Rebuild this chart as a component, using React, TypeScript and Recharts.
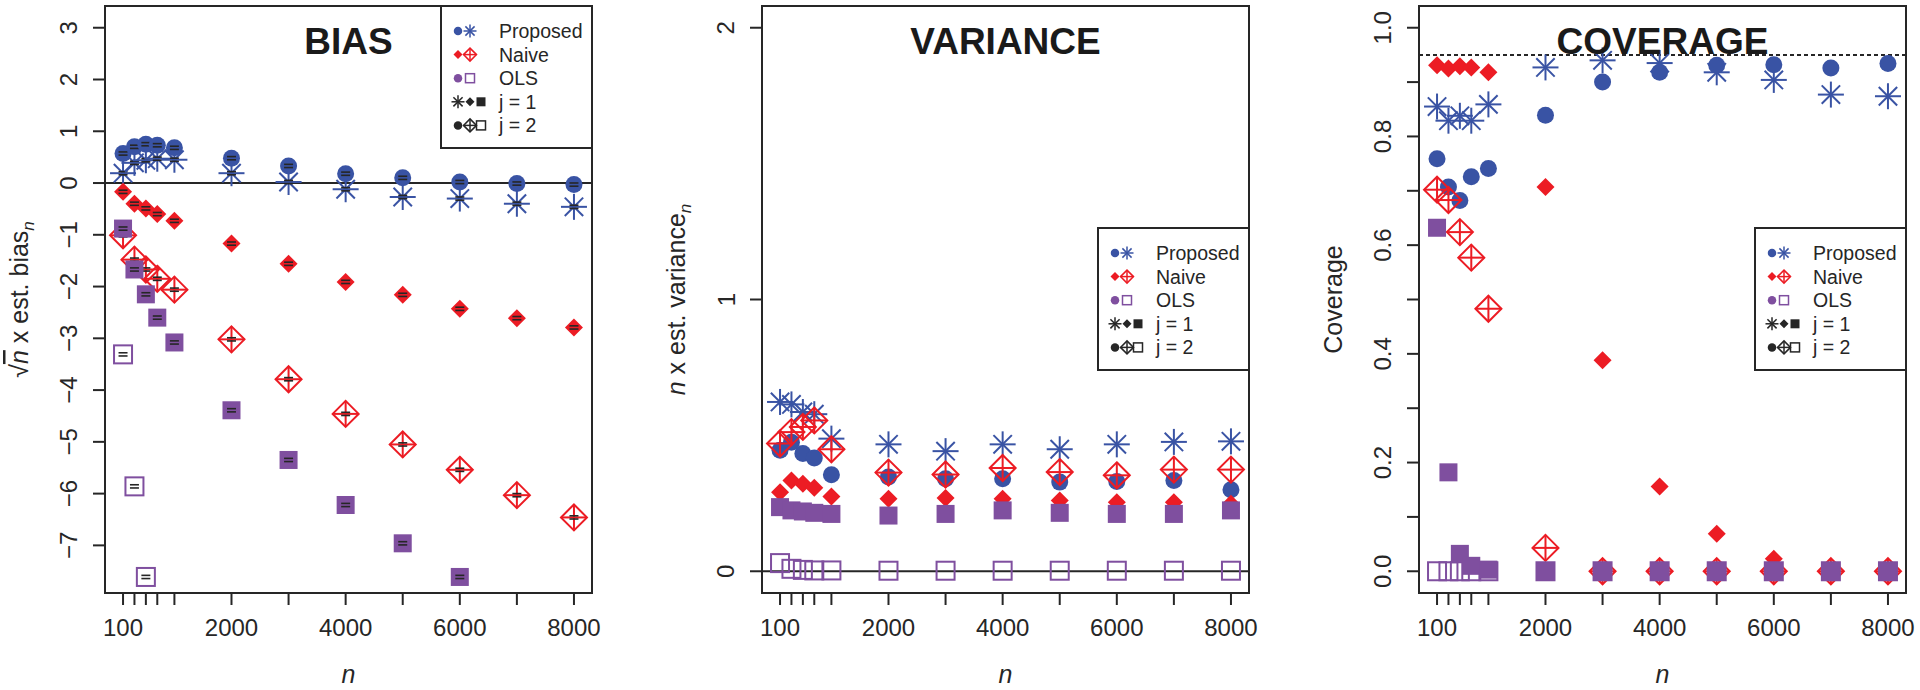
import React from "react";
import { ScatterChart, Scatter, XAxis, YAxis, ReferenceLine } from "recharts";

const FONT = "'Liberation Sans', Arial, Helvetica, sans-serif";
const BLUE = "#3953a4";
const RED = "#ec1c24";
const PURPLE = "#7f4f9f";
const INK = "#262626";

// sample sizes (x axis)
const N = [100, 300, 500, 700, 1000, 2000, 3000, 4000, 5000, 6000, 7000, 8000];
const N_LABELED = [100, 2000, 4000, 6000, 8000];
const X_DOMAIN = [-216, 8316];

// BIAS panel (sqrt(n) x est. bias)
const biasPropJ1 = [0.19, 0.39, 0.44, 0.47, 0.45, 0.19, 0.02, -0.12, -0.27, -0.3, -0.4, -0.46];
const biasPropJ2 = [0.57, 0.7, 0.75, 0.73, 0.68, 0.48, 0.33, 0.18, 0.1, 0.02, -0.01, -0.03];
const biasNaiveJ1 = [-0.17, -0.4, -0.49, -0.6, -0.73, -1.17, -1.56, -1.91, -2.16, -2.43, -2.61, -2.79];
const biasNaiveJ2 = [-1.01, -1.48, -1.67, -1.85, -2.06, -3.02, -3.79, -4.46, -5.05, -5.54, -6.03, -6.46];
const biasOlsJ1 = [-0.88, -1.67, -2.15, -2.6, -3.08, -4.39, -5.35, -6.22, -6.96, -7.61, null, null];
const biasOlsJ2 = [-3.31, -5.86, -7.61, null, null, null, null, null, null, null, null, null];
const BIAS_TICKS = [-7, -6, -5, -4, -3, -2, -1, 0, 1, 2, 3];

// VARIANCE panel (n x est. variance)
const varPropJ1 = [0.623, 0.614, 0.586, 0.578, 0.488, 0.467, 0.442, 0.467, 0.449, 0.467, 0.476, 0.478];
const varPropJ2 = [0.445, 0.475, 0.433, 0.417, 0.355, 0.347, 0.34, 0.34, 0.328, 0.33, 0.334, 0.3];
const varNaiveJ1 = [0.291, 0.334, 0.322, 0.307, 0.275, 0.267, 0.27, 0.267, 0.26, 0.254, 0.254, 0.248];
const varNaiveJ2 = [0.47, 0.512, 0.531, 0.555, 0.449, 0.363, 0.356, 0.38, 0.365, 0.353, 0.374, 0.374];
const varOlsJ1 = [0.236, 0.224, 0.22, 0.215, 0.211, 0.205, 0.211, 0.224, 0.215, 0.211, 0.211, 0.224];
const varOlsJ2 = [0.03, 0.009, 0.005, 0.003, 0.003, 0.002, 0.002, 0.002, 0.002, 0.002, 0.002, 0.002];
const VAR_TICKS = [0, 1, 2];

// COVERAGE panel
const covPropJ1 = [0.855, 0.829, 0.838, 0.829, 0.859, 0.927, 0.94, 0.935, 0.918, 0.904, 0.877, 0.874];
const covPropJ2 = [0.759, 0.707, 0.682, 0.726, 0.741, 0.839, 0.9, 0.918, 0.931, 0.932, 0.926, 0.934];
const covNaiveJ1 = [0.931, 0.925, 0.929, 0.927, 0.918, 0.707, 0.388, 0.156, 0.069, 0.023, 0, 0];
const covNaiveJ2 = [0.702, 0.683, 0.624, 0.577, 0.483, 0.043, 0, 0, 0, 0, 0, 0];
const covOlsJ1 = [0.632, 0.182, 0.032, 0.01, 0.003, 0, 0, 0, 0, 0, 0, 0];
const covOlsJ2 = [0, 0, 0, 0, 0, 0, 0, 0, 0, 0, 0, 0];
const COV_TICKS = [0, 0.1, 0.2, 0.3, 0.4, 0.5, 0.6, 0.7, 0.8, 0.9, 1];

const W = 657;
const H = 690;
const PLOT = { left: 105, top: 6, width: 487, height: 587 };

const toPoints = (vals: (number | null)[]) =>
  N.map((x, i) => ({ x, y: vals[i] })).filter((p) => p.y !== null);

// R style plotting symbols
function Glyph({ cx, cy, kind, color, s = 1, bar = false }: any) {
  if (cx == null || cy == null) return null;
  let body: any = null;
  if (kind === "star") {
    const a = 13 * s, d = 9.2 * s;
    body = (
      <g stroke={color} strokeWidth={2 * Math.max(s, 0.75)}>
        <line x1={cx - a} y1={cy} x2={cx + a} y2={cy} />
        <line x1={cx} y1={cy - a} x2={cx} y2={cy + a} />
        <line x1={cx - d} y1={cy - d} x2={cx + d} y2={cy + d} />
        <line x1={cx - d} y1={cy + d} x2={cx + d} y2={cy - d} />
      </g>
    );
  } else if (kind === "dot") {
    body = <circle cx={cx} cy={cy} r={8.5 * s} fill={color} />;
  } else if (kind === "dfill") {
    const a = 9 * s;
    body = <polygon points={`${cx},${cy - a} ${cx + a},${cy} ${cx},${cy + a} ${cx - a},${cy}`} fill={color} />;
  } else if (kind === "dplus") {
    const a = 13 * s;
    body = (
      <g stroke={color} strokeWidth={2 * Math.max(s, 0.75)} fill="none">
        <polygon points={`${cx},${cy - a} ${cx + a},${cy} ${cx},${cy + a} ${cx - a},${cy}`} />
        <line x1={cx - a} y1={cy} x2={cx + a} y2={cy} />
        <line x1={cx} y1={cy - a} x2={cx} y2={cy + a} />
      </g>
    );
  } else if (kind === "sfill") {
    const a = 9 * s;
    body = <rect x={cx - a} y={cy - a} width={2 * a} height={2 * a} fill={color} />;
  } else if (kind === "sopen") {
    const a = 9 * s;
    body = (
      <rect x={cx - a} y={cy - a} width={2 * a} height={2 * a} fill="none" stroke={color}
        strokeWidth={2 * Math.max(s, 0.75)} />
    );
  }
  return (
    <g>
      {body}
      {bar && (
        <g stroke={INK} strokeWidth={1.6}>
          <line x1={cx - 4.5} y1={cy - 1.6} x2={cx + 4.5} y2={cy - 1.6} />
          <line x1={cx - 4.5} y1={cy + 1.6} x2={cx + 4.5} y2={cy + 1.6} />
        </g>
      )}
    </g>
  );
}

function Legend({ top }: { top: number }) {
  const left = 441;
  const rows = [
    { label: "Proposed", marks: [["dot", BLUE], ["star", BLUE]] },
    { label: "Naive", marks: [["dfill", RED], ["dplus", RED]] },
    { label: "OLS", marks: [["dot", PURPLE], ["sopen", PURPLE]] },
    { label: "j = 1", marks: [["star", INK], ["dfill", INK], ["sfill", INK]] },
    { label: "j = 2", marks: [["dot", INK], ["dplus", INK], ["sopen", INK]] },
  ];
  const xs = [17, 29, 40];
  return (
    <g>
      <rect x={left} y={top} width={151} height={142} fill="#fff" stroke={INK} strokeWidth={2} />
      {rows.map((r, i) => {
        const cy = top + 25 + i * 23.6;
        return (
          <g key={r.label}>
            {r.marks.map((m, k) => (
              <Glyph key={k} cx={left + xs[k]} cy={cy} kind={m[0]} color={m[1]} s={0.5} />
            ))}
            <text x={left + 58} y={cy + 7} fontSize={19.5} fill={INK} fontFamily={FONT}>{r.label}</text>
          </g>
        );
      })}
    </g>
  );
}

function Panel({ left, title, series, yDomain, yTicks, yFmt, refY, refDash, legendTop, yTitle, bars }: any) {
  const XTick = (p: any) =>
    N_LABELED.includes(p.payload.value) ? (
      <text x={p.x} y={p.y + 29} textAnchor="middle" fontSize={24} fill={INK} fontFamily={FONT}>
        {p.payload.value}
      </text>
    ) : <g />;
  const YTick = (p: any) => {
    const label = yFmt(p.payload.value);
    if (label === "") return <g />;
    const bx = p.x - 13.5;
    return (
      <text x={bx} y={p.y} transform={`rotate(-90 ${bx} ${p.y})`} textAnchor="middle" fontSize={24}
        fill={INK} fontFamily={FONT}>
        {label}
      </text>
    );
  };
  const cxPlot = PLOT.left + PLOT.width / 2;
  const cyPlot = PLOT.top + PLOT.height / 2;
  return (
    <div style={{ position: "absolute", left, top: 0, width: W, height: H }}>
      <ScatterChart width={W} height={H} margin={{ top: 6, right: 65, bottom: 0, left: 0 }}>
        <XAxis type="number" dataKey="x" domain={X_DOMAIN} ticks={N} interval={0} allowDataOverflow
          axisLine={false} tickSize={12} tickLine={{ stroke: INK, strokeWidth: 2 }} tick={XTick} height={97} />
        <YAxis type="number" dataKey="y" domain={yDomain} ticks={yTicks} interval={0} allowDataOverflow
          axisLine={false} tickSize={12} tickLine={{ stroke: INK, strokeWidth: 2 }} tick={YTick} width={105} />
        <ReferenceLine y={refY} stroke={INK} strokeWidth={2} strokeDasharray={refDash} />
        {series.map((s: any, i: number) => (
          <Scatter key={i} data={toPoints(s.values)} isAnimationActive={false}
            shape={(p: any) => <Glyph cx={p.cx} cy={p.cy} kind={s.kind} color={s.color} bar={bars} />} />
        ))}
      </ScatterChart>
      <svg width={W} height={H} style={{ position: "absolute", left: 0, top: 0, pointerEvents: "none" }}>
        <rect x={PLOT.left} y={PLOT.top} width={PLOT.width} height={PLOT.height} fill="none" stroke={INK}
          strokeWidth={2} />
        <text x={cxPlot} y={54} textAnchor="middle" fontSize={37} fontWeight="bold" fill="#1a1a1a"
          fontFamily={FONT}>{title}</text>
        <text x={28} y={cyPlot} transform={`rotate(-90 28 ${cyPlot})`} textAnchor="middle" fontSize={25}
          fill={INK} fontFamily={FONT}>{yTitle}</text>
        <text x={cxPlot} y={683} textAnchor="middle" fontSize={25} fontStyle="italic" fill={INK}
          fontFamily={FONT}>n</text>
        <Legend top={legendTop} />
      </svg>
    </div>
  );
}

const mk = (pj1: any, pj2: any, nj1: any, nj2: any, oj1: any, oj2: any, olsSolidLast: boolean) => {
  const ols = olsSolidLast
    ? [{ values: oj2, kind: "sopen", color: PURPLE }, { values: oj1, kind: "sfill", color: PURPLE }]
    : [{ values: oj1, kind: "sfill", color: PURPLE }, { values: oj2, kind: "sopen", color: PURPLE }];
  return [
    { values: pj1, kind: "star", color: BLUE },
    { values: pj2, kind: "dot", color: BLUE },
    { values: nj1, kind: "dfill", color: RED },
    { values: nj2, kind: "dplus", color: RED },
    ...ols,
  ];
};

export default function App() {
  const sub = (t: string) => (
    <tspan fontStyle="italic" fontSize={17} dy={6}>{t}</tspan>
  );
  return (
    <div style={{ position: "absolute", left: 0, top: 0, width: 1920, height: 690, background: "#fff" }}>
      <Panel
        left={0}
        title="BIAS"
        series={mk(biasPropJ1, biasPropJ2, biasNaiveJ1, biasNaiveJ2, biasOlsJ1, biasOlsJ2, false)}
        yDomain={[-7.92, 3.42]}
        yTicks={BIAS_TICKS}
        yFmt={(v: number) => (v < 0 ? "\u2212" + Math.abs(v) : String(v))}
        refY={0}
        legendTop={6}
        bars
        yTitle={
          <>
            {"\u221A"}
            <tspan fontStyle="italic" textDecoration="overline">n</tspan>
            {" x est. bias"}
            {sub("n")}
          </>
        }
      />
      <Panel
        left={657}
        title="VARIANCE"
        series={mk(varPropJ1, varPropJ2, varNaiveJ1, varNaiveJ2, varOlsJ1, varOlsJ2, false)}
        yDomain={[-0.08, 2.08]}
        yTicks={VAR_TICKS}
        yFmt={(v: number) => String(v)}
        refY={0}
        legendTop={228}
        yTitle={
          <>
            <tspan fontStyle="italic">n</tspan>
            {" x est. variance"}
            {sub("n")}
          </>
        }
      />
      <Panel
        left={1314}
        title="COVERAGE"
        series={mk(covPropJ1, covPropJ2, covNaiveJ1, covNaiveJ2, covOlsJ1, covOlsJ2, true)}
        yDomain={[-0.04, 1.04]}
        yTicks={COV_TICKS}
        yFmt={(v: number) => (Math.round(v * 10) % 2 === 0 ? v.toFixed(1) : "")}
        refY={0.95}
        refDash="4 3"
        legendTop={228}
        yTitle={<>Coverage</>}
      />
    </div>
  );
}
